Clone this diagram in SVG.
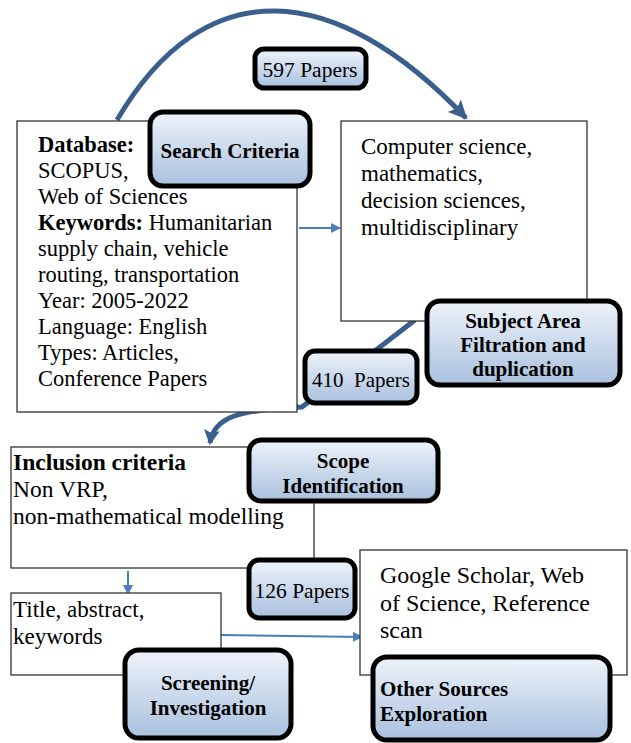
<svg xmlns="http://www.w3.org/2000/svg" width="631" height="743" viewBox="0 0 631 743" font-family="'Liberation Serif', 'Times New Roman', 'DejaVu Serif', serif">
<defs>
<linearGradient id="g" x1="0" y1="0" x2="0" y2="1">
<stop offset="0" stop-color="#eef3fa"/>
<stop offset="1" stop-color="#a9c0de"/>
</linearGradient>
<marker id="thick" markerWidth="20" markerHeight="18" refX="17" refY="9" orient="auto" markerUnits="userSpaceOnUse">
<path d="M0,0 L19,9 L0,18 L4,9 Z" fill="#3b5f8d"/>
</marker>
<marker id="thick2" markerWidth="16" markerHeight="16" refX="13" refY="8" orient="auto" markerUnits="userSpaceOnUse">
<path d="M0,0 L15,8 L0,16 L3,8 Z" fill="#3b5f8d"/>
</marker>
<marker id="thin" markerWidth="10" markerHeight="10" refX="9" refY="5" orient="auto" markerUnits="userSpaceOnUse">
<path d="M0,0 L10,5 L0,10 Z" fill="#4a7ebb"/>
</marker>
</defs>
<style>
.box{fill:#fff;stroke:#333;stroke-width:1.3}
.lab{fill:url(#g);stroke:#000;stroke-width:5}
text{font-family:'Liberation Serif','Times New Roman','DejaVu Serif',serif;fill:#000}
.t{font-size:21.5px}
.b{font-size:21px;font-weight:bold}
.c{text-anchor:middle}
.thick{fill:none;stroke:#3b5f8d;stroke-width:5}
.thin{fill:none;stroke:#4a7ebb;stroke-width:2}
</style>
<g id="connectors">
<path class="thick" d="M117 120 C205 -30, 335 -20, 466 118" marker-end="url(#thick)"/>
<path class="thick" d="M415 320 L302 407 C240 410 214 416 210 443" marker-end="url(#thick2)"/>
<path class="thin" d="M299 228 L340 228" marker-end="url(#thin)"/>
<path class="thin" d="M128 571 L128 594" marker-end="url(#thin)"/>
<path class="thin" d="M221 635 L362 637" marker-end="url(#thin)"/>
</g>
<g id="database" font-size="22.5px">
<rect class="box" x="17" y="121" width="280" height="291"/>
<text x="38" y="152" font-weight="bold">Database:</text>
<text x="38" y="178">SCOPUS,</text>
<text x="38" y="204">Web of Sciences</text>
<text x="38" y="230"><tspan font-weight="bold">Keywords:</tspan> Humanitarian</text>
<text x="38" y="256">supply chain, vehicle</text>
<text x="38" y="282">routing, transportation</text>
<text x="38" y="308">Year: 2005-2022</text>
<text x="38" y="334">Language: English</text>
<text x="38" y="360">Types: Articles,</text>
<text x="38" y="386">Conference Papers</text>
</g>
<g id="search-criteria">
<rect class="lab" x="150" y="112" width="160" height="74" rx="13"/>
<text class="b c" x="230" y="158">Search Criteria</text>
</g>
<g id="papers-597">
<rect class="lab" x="255" y="49" width="111" height="39" rx="9"/>
<text class="t c" x="310" y="77">597 Papers</text>
</g>
<g id="subject" font-size="23px">
<rect class="box" x="341" y="121" width="246" height="200"/>
<text x="361" y="154">Computer science,</text>
<text x="361" y="181">mathematics,</text>
<text x="361" y="208">decision sciences,</text>
<text x="361" y="235">multidisciplinary</text>
</g>
<g id="subject-area">
<rect class="lab" x="427" y="301" width="193" height="84" rx="13"/>
<text class="b c" x="523" y="328">Subject Area</text>
<text class="b c" x="523" y="352">Filtration and</text>
<text class="b c" x="523" y="376">duplication</text>
</g>
<g id="papers-410">
<rect class="lab" x="305" y="351" width="112" height="52" rx="10"/>
<text class="c" font-size="21px" x="361" y="387" xml:space="preserve">410  Papers</text>
</g>
<g id="inclusion" font-size="23.5px">
<rect class="box" x="11" y="447" width="303" height="121"/>
<text x="13" y="470" font-weight="bold">Inclusion criteria</text>
<text x="13" y="497">Non VRP,</text>
<text x="13" y="524">non-mathematical modelling</text>
</g>
<g id="scope">
<rect class="lab" x="249" y="440" width="189" height="61" rx="12"/>
<text class="b c" x="343" y="468">Scope</text>
<text class="b c" x="343" y="493">Identification</text>
</g>
<g id="papers-126">
<rect class="lab" x="249" y="560" width="106" height="58" rx="10"/>
<text class="t c" x="302" y="598">126 Papers</text>
</g>
<g id="title" font-size="23px">
<rect class="box" x="11" y="593" width="210" height="82"/>
<text x="13" y="617">Title, abstract,</text>
<text x="13" y="644">keywords</text>
</g>
<g id="screening">
<rect class="lab" x="125" y="650" width="166" height="88" rx="14"/>
<text class="b c" x="208" y="690">Screening/</text>
<text class="b c" x="208" y="715">Investigation</text>
</g>
<g id="google" font-size="24px">
<rect class="box" x="360" y="550" width="267" height="125"/>
<text x="380" y="583">Google Scholar, Web</text>
<text x="380" y="611">of Science, Reference</text>
<text x="380" y="638">scan</text>
</g>
<g id="other-sources">
<rect class="lab" x="373" y="657" width="237" height="83" rx="14"/>
<text class="b" x="380" y="696">Other Sources</text>
<text class="b" x="380" y="721">Exploration</text>
</g>
</svg>
